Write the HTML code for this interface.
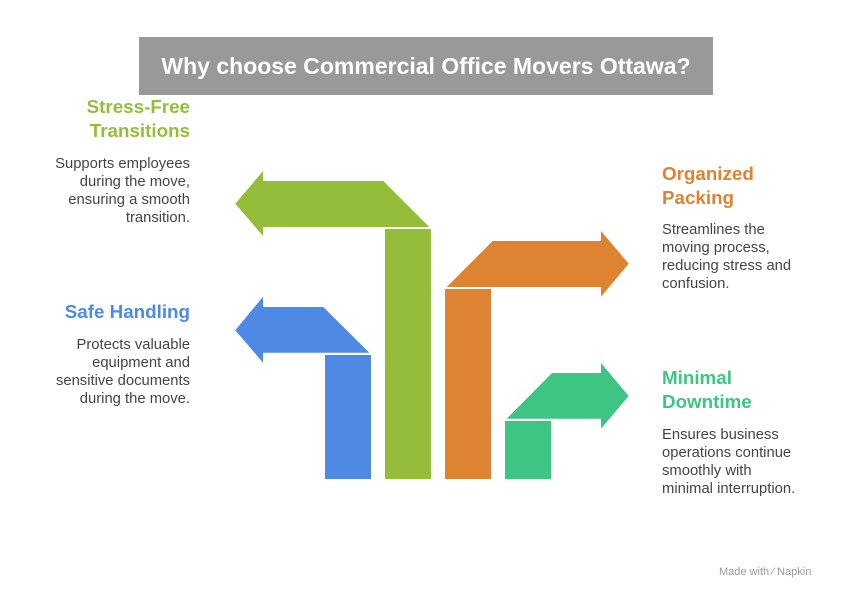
<!DOCTYPE html>
<html><head><style>
body{margin:0;width:852px;height:600px;background:#fff;position:relative;overflow:hidden;font-family:"Liberation Sans",Arial,sans-serif}
.t{position:absolute;white-space:nowrap}
.h{font-weight:bold;font-size:18.8px;line-height:24px}
.b{font-size:14.8px;line-height:18px;color:#444}
.r{text-align:right;right:662px}
.l{left:662px}
</style></head><body>
<div style="position:absolute;left:139px;top:37px;width:574px;height:58px;background:#999999"></div>
<div class="t" style="left:139px;top:37px;width:574px;line-height:58px;text-align:center;color:#fff;font-weight:bold;font-size:23px">Why choose Commercial Office Movers Ottawa?</div>
<svg width="852" height="600" style="position:absolute;left:0;top:0">
<polygon fill="#94BE3A" points="235.3,203.7 263,171 263,181 383.3,181 429.3,227 263,227 263,236"/>
<rect fill="#94BE3A" x="385" y="229" width="46" height="250"/>
<polygon fill="#4E89E4" points="235.3,330.3 263,296.7 263,307 323.3,307 369.3,352.7 263,352.7 263,362.7"/>
<rect fill="#4E89E4" x="325" y="355" width="46" height="124"/>
<polygon fill="#DE8331" points="446.7,287 492.7,241 601,241 601,231 628.7,263.7 601,296.7 601,287"/>
<rect fill="#DE8331" x="445" y="289" width="46" height="190"/>
<polygon fill="#3EC483" points="506.7,418.7 552,373 601,373 601,363 628.7,396 601,428.7 601,418.7"/>
<rect fill="#3EC483" x="505" y="421" width="46" height="58"/>
</svg>
<div class="t h r" style="top:95px;color:#94BE3A">Stress-Free<br>Transitions</div>
<div class="t b r" style="top:155px">Supports employees<br>during the move,<br>ensuring a smooth<br>transition.</div>
<div class="t h r" style="top:300px;color:#4E89E4">Safe Handling</div>
<div class="t b r" style="top:336px">Protects valuable<br>equipment and<br>sensitive documents<br>during the move.</div>
<div class="t h l" style="top:162px;color:#DE8331">Organized<br>Packing</div>
<div class="t b l" style="top:221px">Streamlines the<br>moving process,<br>reducing stress and<br>confusion.</div>
<div class="t h l" style="top:366px;color:#3EC483">Minimal<br>Downtime</div>
<div class="t b l" style="top:426px">Ensures business<br>operations continue<br>smoothly with<br>minimal interruption.</div>
<div class="t" style="left:719px;top:566px;font-size:11px;color:#999">Made with ⁄ Napkin</div>
</body></html>
